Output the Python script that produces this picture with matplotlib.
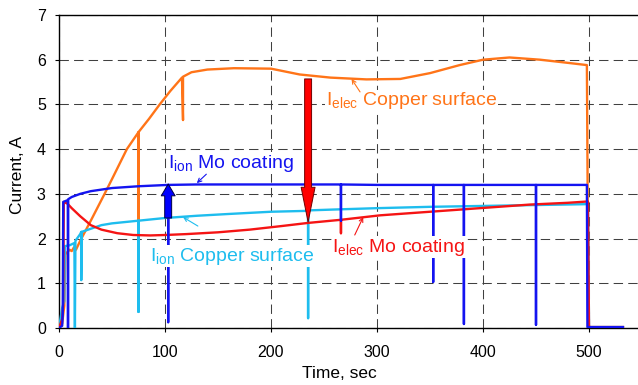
import matplotlib
matplotlib.use("Agg")
import matplotlib.pyplot as plt
from matplotlib.patches import FancyArrowPatch

plt.rcParams['font.family'] = ['Liberation Sans', 'DejaVu Sans']
plt.rcParams['mathtext.default'] = 'regular'

# ---- data ----
orange_t = [0, 3, 5, 6, 8, 10, 12, 14, 16, 18, 20, 30, 43, 50, 64, 75, 75, 75,
            85, 95, 105, 116, 117, 117, 125, 140, 165, 200, 227, 256, 290, 322, 350,
            378, 400, 425, 454, 480, 498, 499.5, 501, 532]
orange_v = [0, 0.1, 0.5, 1.65, 1.7, 1.75, 1.72, 1.8, 1.75, 1.85, 1.95, 2.4, 3.0, 3.33,
            4.0, 4.38, 2.3, 4.38, 4.68, 5.0, 5.3, 5.6, 4.65, 5.62, 5.72, 5.78,
            5.81, 5.8, 5.67, 5.6, 5.56, 5.57, 5.7, 5.88, 6.0, 6.05, 6.0, 5.93, 5.88, 0.05,
            0.02, 0.02]

red_t = [0, 3, 4, 4.5, 8, 12, 20, 25, 30, 40, 55, 70, 86, 100, 120, 150, 180, 210, 235,
         266, 266, 266, 303, 350, 397, 444, 480, 499, 500, 532]
red_v = [0, 0.2, 0.5, 2.82, 2.78, 2.68, 2.5, 2.4, 2.3, 2.2, 2.12, 2.08, 2.07, 2.08, 2.1,
         2.14, 2.2, 2.28, 2.35, 2.42, 2.12, 2.42, 2.52, 2.6, 2.68, 2.76, 2.8, 2.83, 0.02, 0.02]

cyan_t = [0, 2, 3, 5, 5.5, 10, 14.5, 15, 15.5, 20, 21, 21, 21.5, 30, 40, 50, 75, 75, 75,
          100, 130, 160, 200, 235, 235, 235, 260, 300, 350, 400, 450, 499, 500, 532]
cyan_v = [0, 0.3, 0.45, 0.6, 1.83, 1.85, 1.9, 0, 1.95, 2.1, 2.15, 1.07, 2.15, 2.22, 2.3,
          2.34, 2.4, 0.36, 2.4, 2.46, 2.51, 2.55, 2.6, 2.62, 0.22, 2.63, 2.65, 2.68, 2.71,
          2.73, 2.75, 2.77, 0.02, 0.02]

blue_t = [0, 3, 3.5, 4, 8.3, 8.5, 8.7, 12, 20, 30, 50, 75, 103, 103, 103, 130, 160, 200,
          266, 266, 266, 300, 353, 353, 353, 382, 382, 382, 450, 450, 450, 498, 498.5, 532]
blue_v = [0, 0.05, 0.3, 2.82, 2.86, 0, 2.88, 2.93, 3.0, 3.06, 3.13, 3.17, 3.2, 0.13, 3.2,
          3.21, 3.21, 3.21, 3.21, 2.4, 3.21, 3.2, 3.2, 1.03, 3.2, 3.2, 0.09, 3.2, 3.2, 0.07,
          3.2, 3.2, 0.02, 0.02]

x_ticks = [0, 100, 200, 300, 400, 500]
y_ticks = [0, 1, 2, 3, 4, 5, 6, 7]

C_ORANGE = '#FF7418'
C_RED = '#F51414'
C_CYAN = '#1EBDEE'
C_BLUE = '#1414F0'

fig = plt.figure(figsize=(6.38, 3.85), dpi=100)
ax = fig.add_axes([59 / 638, 57 / 385, 583 / 638, 313 / 385])

ax.plot(orange_t, orange_v, color=C_ORANGE, lw=1.7, zorder=3)
ax.plot(cyan_t, cyan_v, color=C_CYAN, lw=1.7, zorder=4)
ax.plot(red_t, red_v, color=C_RED, lw=1.7, zorder=5)
ax.plot(blue_t, blue_v, color=C_BLUE, lw=1.7, zorder=6)

ax.set_xlim(0, 550)
ax.set_ylim(0, 7)
ax.set_xticks(x_ticks)
ax.set_yticks(y_ticks)
ax.tick_params(axis='x', direction='out', length=3, width=0.8, pad=9, labelsize=11.5)
ax.tick_params(axis='y', direction='out', length=3, width=0.8, pad=6.5, labelsize=11.5)
ax.grid(True, color='#404040', lw=0.75, linestyle=(0, (9, 5)))
ax.set_axisbelow(True)
for s in ['left', 'bottom', 'top']:
    ax.spines[s].set_linewidth(1.0)
ax.spines['right'].set_visible(False)

ax.set_xlabel('Time, sec', fontsize=12.5)
ax.set_ylabel('Current, A', fontsize=12.5)
ax.xaxis.set_label_coords(0.481, -0.12)
ax.yaxis.set_label_coords(-0.058, 0.489)

bb = dict(facecolor='white', edgecolor='none', pad=0.5)
ax.text(103, 3.69, r'$I_{ion}$ Mo coating', color=C_BLUE, fontsize=14, va='center',
        ha='left', bbox=bb, zorder=7)
ax.text(86, 1.61, r'$I_{ion}$ Copper surface', color=C_CYAN, fontsize=14, va='center',
        ha='left', bbox=bb, zorder=7)
ax.text(252, 5.08, r'$I_{elec}$ Copper surface', color=C_ORANGE, fontsize=14, va='center',
        ha='left', bbox=bb, zorder=7)
ax.text(258, 1.81, r'$I_{elec}$ Mo coating', color=C_RED, fontsize=14, va='center',
        ha='left', bbox=bb, zorder=7)

def small_arrow(tail, head, color):
    ax.annotate('', xy=head, xytext=tail,
                arrowprops=dict(arrowstyle='->', color=color, lw=0.8,
                                shrinkA=0, shrinkB=0, mutation_scale=7), zorder=8)

small_arrow((139, 3.44), (130, 3.24), C_BLUE)
small_arrow((131, 2.28), (117, 2.48), C_CYAN)
small_arrow((284, 5.28), (276, 5.57), C_ORANGE)
small_arrow((279, 2.08), (287, 2.48), C_RED)

red_arrow = FancyArrowPatch((235, 5.57), (235, 2.37),
                            arrowstyle='simple,head_length=25,head_width=10,tail_width=5',
                            mutation_scale=1, fc='#FF0000', ec='#700000', lw=0.7,
                            shrinkA=0, shrinkB=0, zorder=9)
ax.add_patch(red_arrow)
blue_arrow = FancyArrowPatch((103, 2.46), (103, 3.22),
                             arrowstyle='simple,head_length=8.5,head_width=10,tail_width=5',
                             mutation_scale=1, fc='#0000FF', ec='#000040', lw=0.7,
                             shrinkA=0, shrinkB=0, zorder=9)
ax.add_patch(blue_arrow)

fig.savefig('out.png', dpi=100)
